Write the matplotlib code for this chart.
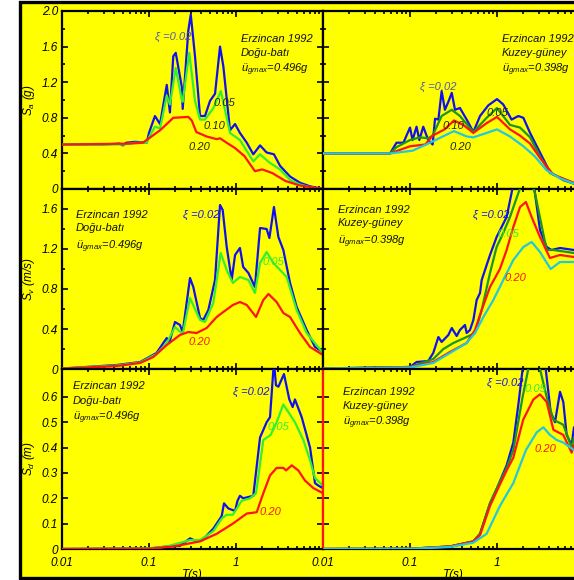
import matplotlib
matplotlib.use('Agg')
import matplotlib.pyplot as plt
import matplotlib.ticker as mtick
from matplotlib.patches import Rectangle

plt.rcParams['font.family'] = 'Liberation Sans'
plt.rcParams['font.style'] = 'italic'
plt.rcParams['mathtext.fontset'] = 'custom'
plt.rcParams['mathtext.rm'] = 'Liberation Sans:italic'
plt.rcParams['mathtext.it'] = 'Liberation Sans:italic'

# ---- data ----
# Sa, Dogu-bati
t_sa_ew_02 = [0.01, 0.03, 0.046, 0.05, 0.055, 0.07, 0.094, 0.1, 0.117, 0.134, 0.16, 0.174, 0.19, 0.203,
              0.238, 0.244, 0.283, 0.302, 0.338, 0.386, 0.44, 0.503, 0.574, 0.655, 0.715, 0.853, 0.975,
              1.11, 1.33, 1.58, 1.89, 2.25, 2.73, 3.21, 4.18, 5.44, 7.10, 10]
sa_ew_02 = [0.50, 0.50, 0.51, 0.49, 0.52, 0.53, 0.52, 0.63, 0.82, 0.73, 1.17, 0.86, 1.49, 1.53,
            1.15, 0.90, 1.78, 1.96, 1.49, 0.82, 0.82, 0.99, 1.07, 1.60, 1.38, 0.66, 0.73,
            0.63, 0.52, 0.39, 0.49, 0.41, 0.39, 0.26, 0.14, 0.07, 0.03, 0.0]
t_sa_ew_05 = [0.01, 0.05, 0.07, 0.094, 0.1, 0.117, 0.134, 0.16, 0.174, 0.203, 0.238, 0.244, 0.29, 0.338,
              0.386, 0.44, 0.55, 0.67, 0.853, 1.11, 1.58, 1.89, 2.4, 3.21, 4.18, 5.44, 7.1, 10]
sa_ew_05 = [0.50, 0.50, 0.52, 0.52, 0.58, 0.70, 0.68, 1.05, 0.95, 1.36, 1.00, 0.98, 1.53, 0.99,
            0.78, 0.78, 0.91, 1.10, 0.63, 0.55, 0.31, 0.39, 0.30, 0.22, 0.10, 0.05, 0.02, 0.0]
t_sa_ew_20 = [0.01, 0.06, 0.085, 0.1, 0.134, 0.16, 0.19, 0.283, 0.31, 0.35, 0.46, 0.6, 0.655, 0.78,
              0.975, 1.25, 1.65, 2.0, 2.6, 3.7, 5.4, 10]
sa_ew_20 = [0.50, 0.51, 0.52, 0.57, 0.66, 0.73, 0.80, 0.81, 0.77, 0.64, 0.59, 0.56, 0.57, 0.52,
            0.46, 0.37, 0.20, 0.22, 0.18, 0.09, 0.04, 0.0]

# Sa, Kuzey-guney
t_sa_ns_02 = [0.01, 0.059, 0.07, 0.084, 0.1, 0.107, 0.119, 0.128, 0.142, 0.162, 0.182, 0.194, 0.212,
              0.231, 0.252, 0.276, 0.302, 0.329, 0.375, 0.448, 0.535, 0.638, 0.795, 1.0, 1.18, 1.47,
              1.76, 2.01, 2.40, 3.12, 4.06, 5.78, 7.67, 10]
sa_ns_02 = [0.40, 0.40, 0.52, 0.52, 0.69, 0.55, 0.70, 0.55, 0.70, 0.55, 0.50, 0.79, 0.78,
            1.10, 0.89, 0.98, 1.08, 0.89, 0.91, 0.78, 0.64, 0.82, 0.94, 1.01, 0.95, 0.78,
            0.82, 0.80, 0.63, 0.41, 0.19, 0.10, 0.06, 0.04]
t_sa_ns_05 = [0.01, 0.059, 0.07, 0.1, 0.13, 0.162, 0.182, 0.231, 0.302, 0.375, 0.535, 0.76, 1.0, 1.41,
              1.84, 2.40, 3.12, 4.06, 7.67, 10]
sa_ns_05 = [0.40, 0.40, 0.47, 0.55, 0.58, 0.57, 0.60, 0.82, 0.89, 0.82, 0.64, 0.80, 0.91, 0.72,
            0.69, 0.58, 0.37, 0.18, 0.06, 0.04]
t_sa_ns_10 = [0.01, 0.059, 0.1, 0.15, 0.182, 0.25, 0.32, 0.41, 0.535, 0.76, 1.0, 1.41, 1.84, 2.40,
              3.12, 4.45, 7.67, 10]
sa_ns_10 = [0.40, 0.40, 0.48, 0.50, 0.60, 0.67, 0.77, 0.72, 0.63, 0.74, 0.81, 0.67, 0.60, 0.51,
            0.35, 0.16, 0.07, 0.04]
t_sa_ns_20 = [0.01, 0.059, 0.107, 0.17, 0.25, 0.32, 0.45, 0.535, 0.76, 1.0, 1.41, 2.01, 2.7, 3.72,
              5.3, 7.67, 10]
sa_ns_20 = [0.40, 0.40, 0.43, 0.52, 0.60, 0.65, 0.59, 0.58, 0.63, 0.67, 0.59, 0.48, 0.37, 0.21,
            0.12, 0.06, 0.04]

# Sv, Dogu-bati
t_sv_ew_02 = [0.01, 0.0425, 0.079, 0.122, 0.16, 0.171, 0.199, 0.227, 0.244, 0.296, 0.323, 0.386, 0.42,
              0.481, 0.574, 0.655, 0.703, 0.782, 0.892, 0.975, 1.11, 1.21, 1.39, 1.65, 1.89, 2.25,
              2.42, 2.73, 3.07, 3.50, 4.18, 4.98, 6.49, 8.09, 10]
sv_ew_02 = [0.005, 0.04, 0.07, 0.16, 0.31, 0.26, 0.47, 0.44, 0.37, 0.91, 0.82, 0.51, 0.49,
            0.59, 0.89, 1.64, 1.59, 1.22, 0.89, 1.14, 1.21, 1.02, 0.96, 0.82, 1.41, 1.40,
            1.31, 1.62, 1.32, 1.19, 0.86, 0.62, 0.39, 0.22, 0.17]
t_sv_ew_05 = [0.01, 0.0425, 0.079, 0.122, 0.16, 0.199, 0.244, 0.296, 0.386, 0.44, 0.548, 0.667, 0.782,
              0.92, 1.11, 1.39, 1.65, 1.89, 2.25, 2.69, 3.21, 3.82, 4.98, 6.49, 10]
sv_ew_05 = [0.005, 0.035, 0.065, 0.15, 0.26, 0.42, 0.35, 0.71, 0.49, 0.47, 0.66, 1.16, 0.99,
            0.86, 0.92, 0.89, 0.76, 1.06, 1.17, 1.06, 0.99, 0.92, 0.59, 0.36, 0.16]
t_sv_ew_20 = [0.01, 0.0425, 0.079, 0.112, 0.16, 0.227, 0.283, 0.353, 0.46, 0.60, 0.715, 0.92, 1.11,
              1.33, 1.70, 2.06, 2.36, 2.93, 3.50, 4.18, 5.44, 7.10, 10]
sv_ew_20 = [0.003, 0.03, 0.06, 0.12, 0.24, 0.34, 0.37, 0.36, 0.41, 0.52, 0.57, 0.64, 0.67,
            0.64, 0.52, 0.69, 0.75, 0.67, 0.56, 0.52, 0.36, 0.22, 0.14]

# Sv, Kuzey-guney
t_sv_ns_02 = [0.01, 0.1, 0.119, 0.162, 0.185, 0.212, 0.231, 0.276, 0.302, 0.344, 0.375, 0.428, 0.448,
              0.489, 0.535, 0.584, 0.638, 0.667, 0.728, 0.831, 0.99, 1.13, 1.29, 1.47, 1.8, 2.1, 2.4,
              2.73, 3.12, 3.72, 4.23, 5.3, 7.67, 10]
sv_ns_02 = [0.005, 0.02, 0.07, 0.08, 0.16, 0.32, 0.27, 0.34, 0.41, 0.33, 0.39, 0.44, 0.36,
            0.39, 0.49, 0.69, 0.76, 0.89, 0.99, 1.14, 1.32, 1.42, 1.52, 1.76, 2.15, 2.3, 2.15,
            1.76, 1.39, 1.22, 1.19, 1.21, 1.19, 1.18]
t_sv_ns_05 = [0.01, 0.1, 0.185, 0.242, 0.315, 0.448, 0.559, 0.667, 0.831, 0.99, 1.18, 1.41, 1.76, 2.1,
              2.4, 2.73, 3.72, 4.45, 7.67, 10]
sv_ns_05 = [0.005, 0.02, 0.10, 0.20, 0.26, 0.32, 0.36, 0.59, 0.96, 1.22, 1.36, 1.52, 1.76, 1.95,
            1.9, 1.76, 1.19, 1.19, 1.16, 1.15]
t_sv_ns_10 = [0.01, 0.1, 0.185, 0.288, 0.448, 0.559, 0.667, 0.831, 1.08, 1.29, 1.54, 1.84, 2.15, 2.50,
              3.12, 4.06, 5.30, 7.67, 10]
sv_ns_10 = [0.004, 0.02, 0.07, 0.17, 0.26, 0.39, 0.59, 0.82, 1.00, 1.19, 1.42, 1.62, 1.67, 1.52,
            1.32, 1.11, 1.14, 1.12, 1.11]
t_sv_ns_20 = [0.01, 0.1, 0.185, 0.288, 0.448, 0.559, 0.697, 0.908, 1.18, 1.54, 2.01, 2.50, 3.12, 4.14,
              5.30, 7.67, 10]
sv_ns_20 = [0.004, 0.015, 0.06, 0.16, 0.26, 0.36, 0.52, 0.69, 0.89, 1.09, 1.22, 1.27, 1.17, 1.00,
            1.07, 1.07, 1.06]

# Sd, Dogu-bati
t_sd_ew_02 = [0.01, 0.1, 0.16, 0.227, 0.296, 0.353, 0.41, 0.548, 0.685, 0.728, 0.816, 0.975, 1.04, 1.11,
              1.21, 1.39, 1.58, 1.89, 2.25, 2.46, 2.73, 2.88, 3.07, 3.56, 4.10, 4.48, 4.76, 5.69,
              7.10, 8.09, 8.84, 10]
sd_ew_02 = [0.0, 0.002, 0.01, 0.012, 0.042, 0.03, 0.035, 0.08, 0.13, 0.18, 0.16, 0.15, 0.19, 0.21,
            0.20, 0.205, 0.21, 0.44, 0.50, 0.52, 0.74, 0.646, 0.64, 0.69, 0.59, 0.56, 0.59, 0.52,
            0.40, 0.26, 0.25, 0.24]
t_sd_ew_05 = [0.01, 0.1, 0.16, 0.296, 0.386, 0.548, 0.685, 0.78, 0.92, 1.16, 1.45, 1.70, 2.06, 2.50,
              2.93, 3.50, 4.18, 4.76, 5.94, 7.10, 8.09, 10]
sd_ew_05 = [0.0, 0.002, 0.01, 0.035, 0.035, 0.07, 0.12, 0.135, 0.135, 0.19, 0.20, 0.22, 0.43, 0.45,
            0.50, 0.57, 0.53, 0.50, 0.43, 0.35, 0.28, 0.25]
t_sd_ew_20 = [0.01, 0.1, 0.19, 0.386, 0.60, 0.92, 1.33, 1.73, 2.06, 2.46, 2.93, 3.50, 3.76, 4.37, 5.20,
              6.21, 7.75, 10]
sd_ew_20 = [0.0, 0.001, 0.01, 0.03, 0.06, 0.10, 0.14, 0.145, 0.22, 0.29, 0.32, 0.32, 0.31, 0.33, 0.31,
            0.27, 0.24, 0.22]

# Sd, Kuzey-guney
t_sd_ns_02 = [0.01, 0.1, 0.288, 0.535, 0.638, 0.831, 1.0, 1.29, 1.54, 1.76, 1.97, 2.6, 3.2, 3.63, 4.14,
              4.64, 5.30, 5.78, 6.32, 7.21, 7.67, 10]
sd_ns_02 = [0.0, 0.001, 0.01, 0.03, 0.06, 0.18, 0.24, 0.33, 0.42, 0.57, 0.71, 0.85, 0.85, 0.71, 0.54,
            0.50, 0.62, 0.58, 0.45, 0.41, 0.48, 0.45]
t_sd_ns_05 = [0.01, 0.1, 0.288, 0.535, 0.638, 0.831, 1.0, 1.29, 1.54, 1.97, 2.29, 2.7, 3.12, 3.72, 4.45,
              5.78, 7.21, 7.67, 10]
sd_ns_05 = [0.0, 0.001, 0.01, 0.03, 0.06, 0.18, 0.24, 0.32, 0.39, 0.60, 0.71, 0.76, 0.71, 0.60, 0.51,
            0.49, 0.40, 0.44, 0.42]
t_sd_ns_10 = [0.01, 0.1, 0.288, 0.535, 0.638, 0.831, 1.0, 1.29, 1.54, 2.0, 2.62, 3.12, 3.72, 4.45, 5.78,
              7.21, 7.67, 10]
sd_ns_10 = [0.0, 0.001, 0.01, 0.03, 0.055, 0.17, 0.23, 0.31, 0.36, 0.51, 0.59, 0.61, 0.58, 0.47, 0.45,
            0.38, 0.41, 0.40]
t_sd_ns_20 = [0.01, 0.1, 0.288, 0.535, 0.76, 1.08, 1.54, 2.15, 2.86, 3.41, 4.06, 4.85, 5.78, 7.67, 10]
sd_ns_20 = [0.0, 0.001, 0.008, 0.025, 0.06, 0.17, 0.26, 0.39, 0.46, 0.48, 0.45, 0.43, 0.42, 0.39, 0.38]

x_ticks = [0.01, 0.1, 1, 10]
x_ticklabels = ['0.01', '0.1', '1', '']
y_ticks = [[0, 0.4, 0.8, 1.2, 1.6, 2.0], [0, 0.4, 0.8, 1.2, 1.6], [0, 0.1, 0.2, 0.3, 0.4, 0.5, 0.6]]
y_ticklabels = [['0', '0.4', '0.8', '1.2', '1.6', '2.0'], ['0', '0.4', '0.8', '1.2', '1.6'],
                ['0', '0.1', '0.2', '0.3', '0.4', '0.5', '0.6']]
y_lims = [2.0, 1.8, 0.71]
y_labels = ['$S_a$ (g)', '$S_v$ (m/s)', '$S_d$ (m)']
quake = 'Erzincan 1992'
comps = ['Doğu-batı', 'Kuzey-güney']
pga = ['0.496g', '0.398g']

BLUE = '#1010ee'
LGREEN = '#33ee33'
DGREEN = '#1a961a'
RED = '#ff1414'
CYAN = '#22c8dc'
XI = '#5656a8'

W, H = 574, 580
fig = plt.figure(figsize=(W / 100, H / 100), dpi=100, facecolor='white')
fig.add_artist(Rectangle((20 / W, 1 - 578 / H), 1.0, 576 / H, transform=fig.transFigure,
                         facecolor='#ffff00', edgecolor='black', lw=2.4, zorder=0))

lefts = [62, 323]
tops = [11, 189, 369]
bots = [189, 369, 549]

curves = {
    (0, 0): [(t_sa_ew_02, sa_ew_02, BLUE), (t_sa_ew_05, sa_ew_05, LGREEN), (t_sa_ew_20, sa_ew_20, RED)],
    (0, 1): [(t_sa_ns_02, sa_ns_02, BLUE), (t_sa_ns_05, sa_ns_05, DGREEN), (t_sa_ns_10, sa_ns_10, RED),
             (t_sa_ns_20, sa_ns_20, CYAN)],
    (1, 0): [(t_sv_ew_02, sv_ew_02, BLUE), (t_sv_ew_05, sv_ew_05, LGREEN), (t_sv_ew_20, sv_ew_20, RED)],
    (1, 1): [(t_sv_ns_02, sv_ns_02, BLUE), (t_sv_ns_05, sv_ns_05, DGREEN), (t_sv_ns_10, sv_ns_10, RED),
             (t_sv_ns_20, sv_ns_20, CYAN)],
    (2, 0): [(t_sd_ew_02, sd_ew_02, BLUE), (t_sd_ew_05, sd_ew_05, LGREEN), (t_sd_ew_20, sd_ew_20, RED)],
    (2, 1): [(t_sd_ns_02, sd_ns_02, BLUE), (t_sd_ns_05, sd_ns_05, DGREEN), (t_sd_ns_10, sd_ns_10, RED),
             (t_sd_ns_20, sd_ns_20, CYAN)],
}

# info box position (axes fraction) and damping labels: (text, x, y, color)
info_pos = {(0, 0): (0.686, 0.843, 0.764, 0.669), (0, 1): (0.686, 0.843, 0.764, 0.669),
            (1, 0): (0.054, 0.856, 0.783, 0.678), (1, 1): (0.057, 0.883, 0.811, 0.706),
            (2, 0): (0.042, 0.906, 0.822, 0.728), (2, 1): (0.077, 0.872, 0.794, 0.700)}
damp_labels = {
    (0, 0): [('ξ =0.02', 0.356, 0.854, XI), ('0.05', 0.579, 0.483, '#222222'),
             ('0.10', 0.544, 0.354, '#222222'), ('0.20', 0.483, 0.236, '#222222')],
    (0, 1): [('ξ =0.02', 0.372, 0.573, XI), ('0.05', 0.628, 0.427, '#222222'),
             ('0.10', 0.456, 0.354, '#222222'), ('0.20', 0.483, 0.236, '#222222')],
    (1, 0): [('ξ =0.02', 0.464, 0.856, BLUE), ('0.05', 0.770, 0.594, LGREEN), ('0.20', 0.483, 0.150, RED)],
    (1, 1): [('ξ =0.02', 0.575, 0.856, BLUE), ('0.05', 0.667, 0.750, LGREEN), ('0.20', 0.697, 0.506, RED)],
    (2, 0): [('ξ =0.02', 0.655, 0.872, BLUE), ('0.05', 0.789, 0.678, LGREEN), ('0.20', 0.755, 0.206, RED)],
    (2, 1): [('ξ =0.02', 0.628, 0.922, BLUE), ('0.05', 0.774, 0.889, LGREEN), ('0.20', 0.812, 0.556, RED)],
}

for row in range(3):
    for col in range(2):
        x0 = lefts[col]
        ax = fig.add_axes([x0 / W, 1 - bots[row] / H, 261 / W, (bots[row] - tops[row]) / H])
        ax.set_facecolor('#ffff00')
        for t, v, c in curves[(row, col)]:
            ax.plot(t, v, color=c, lw=1.6, zorder=3)
        ax.set_xscale('log')
        ax.set_xlim(0.01, 10)
        ax.set_ylim(0, y_lims[row])
        ax.xaxis.set_major_locator(mtick.FixedLocator(x_ticks))
        ax.xaxis.set_major_formatter(mtick.FixedFormatter(x_ticklabels))
        ax.xaxis.set_minor_locator(mtick.LogLocator(base=10, subs=range(2, 10), numticks=20))
        ax.xaxis.set_minor_formatter(mtick.NullFormatter())
        ax.yaxis.set_major_locator(mtick.FixedLocator(y_ticks[row]))
        ax.yaxis.set_major_formatter(mtick.FixedFormatter(y_ticklabels[row]))
        if row < 2:
            ax.yaxis.set_minor_locator(mtick.MultipleLocator(0.2))
        ax.tick_params(which='both', direction='in', top=True, right=True, width=1.2,
                       labelsize=8.5, colors='black')
        ax.tick_params(axis='y', pad=3)
        ax.tick_params(axis='x', pad=6)
        ax.tick_params(which='major', length=4)
        ax.tick_params(which='minor', length=2.5)
        ax.tick_params(labelleft=(col == 0), labelbottom=(row == 2))
        for s in ax.spines.values():
            s.set_linewidth(1.6)
        if col == 0:
            ax.set_ylabel(y_labels[row], fontsize=8.5, labelpad=0)
            ax.yaxis.set_label_coords(-0.095, 0.5)
        if row == 2:
            ax.set_xlabel('T(s)', fontsize=8.5, labelpad=0)
            if col == 0:
                ax.spines['right'].set_color(RED)
            else:
                ax.spines['left'].set_color(RED)
        ix, y1, y2, y3 = info_pos[(row, col)]
        ax.text(ix, y1, quake, transform=ax.transAxes, fontsize=8, va='center', color='#111111')
        ax.text(ix, y2, comps[col], transform=ax.transAxes, fontsize=8, va='center', color='#111111')
        ax.text(ix, y3, 'ü$_{gmax}$=' + pga[col], transform=ax.transAxes, fontsize=8,
                va='center', color='#111111')
        for txt, lx, ly, lc in damp_labels[(row, col)]:
            ax.text(lx, ly, txt, transform=ax.transAxes, fontsize=8, va='center', color=lc, zorder=4)

fig.savefig('out.png', dpi=100, facecolor='white')
